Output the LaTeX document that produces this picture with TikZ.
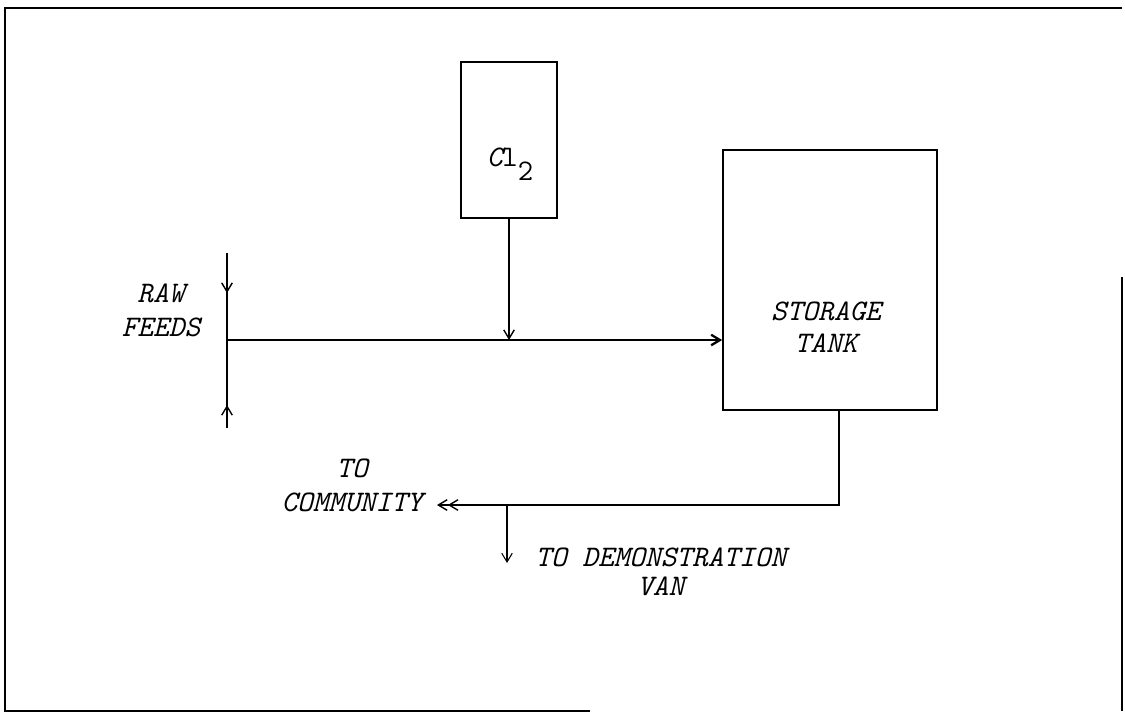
\documentclass[tikz,border=0pt]{standalone}
\usepackage{fontspec}
\usetikzlibrary{arrows.meta}
\tikzset{
  tw/.style={font=\fontsize{17}{19.5}\selectfont\ttfamily\itshape, align=center, inner sep=0pt},
  flow/.style={line width=0.8pt},
  dbltip/.style={-{Straight Barb[length=5pt,width=6pt]Straight Barb[length=5pt,width=6pt]}}
}
\begin{document}
\begin{tikzpicture}[x=0.02cm,y=-0.02cm,>={Straight Barb[length=5pt,width=6pt]}]
\useasboundingbox (0,0) rectangle (1125,714);
\draw[line width=1.6pt] (590,711) -- (5,711) -- (5,8) -- (1122,8);
\draw[line width=1.6pt] (1122,277) -- (1122,711);

\node[draw,line width=1pt,minimum width=1.92cm,minimum height=3.12cm] (clbox) at (509,140) {};
\node[tw] (cltxt) at (510,164) {\textit{C}\upshape l\raisebox{-8pt}{2}};
\node[draw,line width=1pt,minimum width=4.28cm,minimum height=5.2cm] (tank) at (830,280) {};
\node[tw] (tanktxt) at (826,327) {STORAGE\\[-1.5pt]TANK};
\node[tw] (feeds) at (161,310) {RAW\\FEEDS};
\node[tw,anchor=east] (comm) at (423,485) {TO\\COMMUNITY};
\node[tw,anchor=west] (van) at (535,572) {TO DEMONSTRATION\\[-3pt]VAN};

\coordinate (feedtop) at (227,253);
\coordinate (feedbot) at (227,428);
\coordinate (feedin) at (227,340);
\coordinate (tankout) at (839,410);
\coordinate (commend) at (437,505);
\coordinate (vanfrom) at (507,505);

\draw[flow] (feedtop) -- (feedbot);
\draw[flow,->] (feedtop) -- ++(0,40);
\draw[flow,->] (feedbot) -- ++(0,-23);
\draw[line width=1.3pt,->] (feedin) -- (feedin -| tank.west);
\draw[flow,->] (clbox.south) -- (clbox.south |- feedin);
\draw[flow,dbltip] (tankout) |- (commend);
\draw[line width=0.6pt,->] (vanfrom) -- ++(0,58);
\end{tikzpicture}
\end{document}
